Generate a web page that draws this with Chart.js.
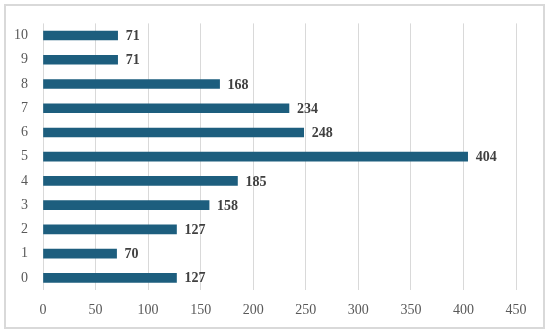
<!DOCTYPE html>
<html>
<head>
<meta charset="utf-8">
<script src="https://cdn.jsdelivr.net/npm/chart.js@4"></script>
<style>
	body { margin: 0; background: #ffffff; }
	#holder { width: 550px; height: 334px; position: relative; }
</style>
</head>
<body>
<div id="holder"><canvas id="myChart"></canvas></div>
<script>
// data
var categories = ["0", "1", "2", "3", "4", "5", "6", "7", "8", "9", "10"];
var values = [127, 70, 127, 158, 185, 404, 248, 234, 168, 71, 71];
var xTicks = [0, 50, 100, 150, 200, 250, 300, 350, 400, 450];

var barColor = "#1d5e7e";
var serif = "'Liberation Serif', 'DejaVu Serif', serif";

// frame round the whole chart
var framePlugin = {
	id: "frame",
	beforeDraw: function(chart) {
		var ctx = chart.ctx;
		ctx.save();
		ctx.strokeStyle = "#d9d9d9";
		ctx.lineWidth = 2;
		ctx.strokeRect(5, 5, 539, 323);
		ctx.restore();
	}
};

// value labels at the end of each bar
var labelPlugin = {
	id: "barLabels",
	afterDatasetsDraw: function(chart) {
		var ctx = chart.ctx;
		var meta = chart.getDatasetMeta(0);
		ctx.save();
		ctx.font = "bold 14px " + serif;
		ctx.fillStyle = "#404040";
		ctx.textAlign = "left";
		ctx.textBaseline = "middle";
		for (var i = 0; i < meta.data.length; i++) {
			var bar = meta.data[i];
			ctx.fillText(values[i], bar.x + 8, bar.y + 1);
		}
		ctx.restore();
	}
};

new Chart("myChart", {
	type: "bar",
	data: {
		labels: categories,
		datasets: [{
			data: values,
			backgroundColor: barColor,
			barThickness: 9
		}]
	},
	options: {
		indexAxis: "y",
		responsive: true,
		maintainAspectRatio: false,
		animation: false,
		layout: { padding: { left: 8, right: 34, top: 22, bottom: 0 } },
		plugins: {
			legend: { display: false },
			tooltip: { enabled: false }
		},
		scales: {
			x: {
				min: 0,
				max: 450,
				afterBuildTicks: function(scale) {
					scale.ticks = xTicks.map(function(v) { return { value: v }; });
				},
				afterFit: function(scale) { scale.height = 44; },
				grid: { color: "#d9d9d9", lineWidth: 1, drawTicks: false },
				border: { display: false },
				ticks: {
					padding: 12,
					color: "#595959",
					font: { family: serif, size: 14 }
				}
			},
			y: {
				reverse: true,
				afterFit: function(scale) { scale.width = 35; },
				grid: { display: false, drawTicks: false },
				border: { display: false },
				ticks: {
					padding: 15,
					color: "#595959",
					font: { family: serif, size: 14 }
				}
			}
		}
	},
	plugins: [framePlugin, labelPlugin]
});
</script>
</body>
</html>
